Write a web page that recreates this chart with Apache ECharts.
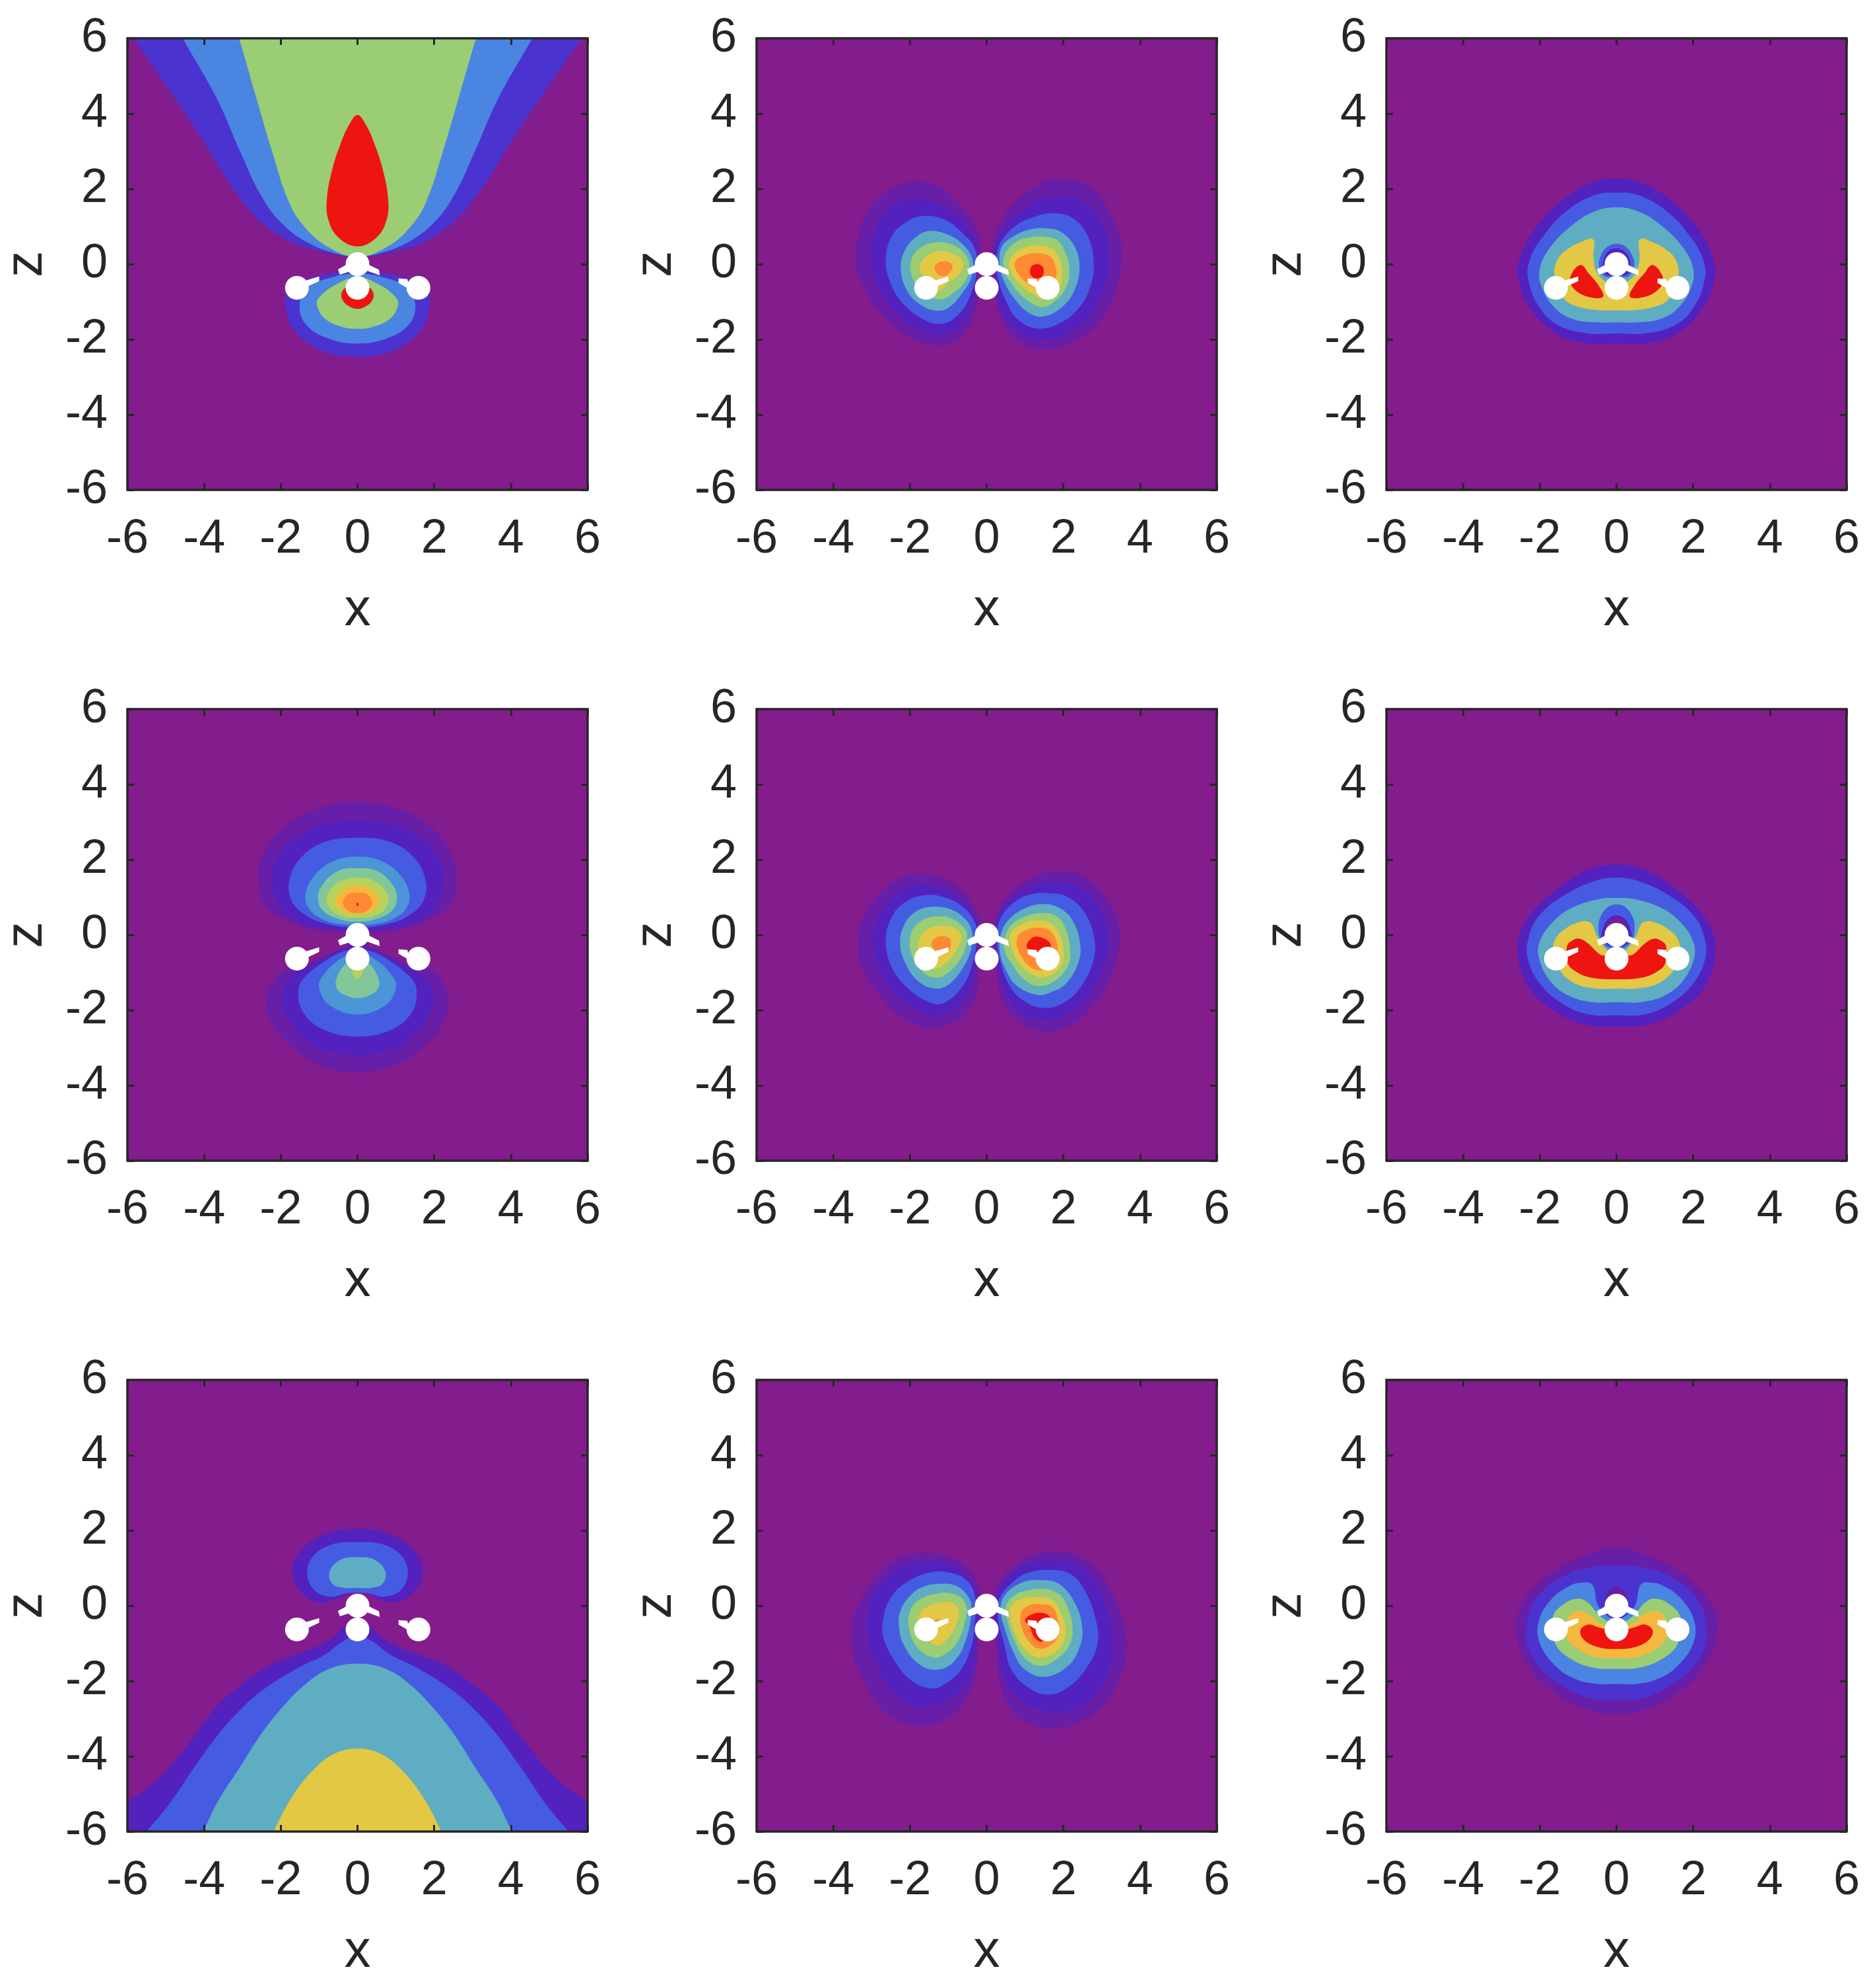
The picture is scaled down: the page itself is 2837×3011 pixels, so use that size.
<!DOCTYPE html>
<html><head><meta charset="utf-8">
<style>html,body{margin:0;padding:0;background:#fff}#c{width:2837px;height:3011px}canvas{filter:blur(.7px)}</style>
<script src="https://cdn.jsdelivr.net/npm/echarts@6/dist/echarts.min.js"></script>
</head><body><div id="c"></div>
<script>
// ---- tick labels / axes
const tickMin = -6, tickMax = 6, tickStep = 2;
const xName = 'x', zName = 'z';
// ---- molecule (x, z)
const atomsX = [0, 0, -1.58, 1.59];
const atomsZ = [0, -0.63, -0.63, -0.63];
const bondWingL = [[-.51,-.14],[-.26,0],[-.22,-.2],[-.46,-.28]];
const bondWingR = [[.56,-.15],[.26,0],[.26,-.18],[.58,-.3]];
const bondArmL = [[-1,-.33],[-1,-.45],[-1.31,-.6],[-1.4,-.45]];
const bondArmR = [[1.07,-.38],[1.07,-.5],[1.37,-.68],[1.3,-.4]];

// ---- contour outlines (x, z). "half" outlines are mirrored about x=0.
// panel 1
const p1_upA = [[0,7],[-6.4,7],[-6.4,6.6],[-5.86,6],[-4.93,4.65],[-4.1,3.4],[-3.36,2.18],[-2.63,1.23],[-1.8,.62],[-.97,.34],[0,.19]];
const p1_upB = [[0,7],[-5.1,7],[-4.56,6],[-3.68,4.42],[-3.05,2.97],[-2.53,1.85],[-2.01,1.12],[-1.28,.56],[-.55,.28],[0,.2]];
const p1_upC = [[0,7],[-3.4,7],[-3.09,6],[-2.64,4.42],[-2.22,2.97],[-1.8,1.68],[-1.39,1],[-.76,.45],[0,.19]];
const p1_upD = [[0,3.96],[-.22,3.7],[-.45,3.17],[-.67,2.47],[-.8,1.71],[-.76,1.18],[-.5,.71],[0,.47]];
const p1_loA = [[0,-.2],[-.96,-.3],[-1.53,-.5],[-1.87,-.85],[-1.87,-1.15],[-1.71,-1.68],[-1.12,-2.21],[-.55,-2.42],[0,-2.46]];
const p1_loB = [[0,-.25],[-.73,-.37],[-1.3,-.63],[-1.51,-1.1],[-1.32,-1.63],[-.7,-2],[0,-2.11]];
const p1_loC = [[0,-.34],[-.5,-.51],[-.96,-.84],[-1.06,-1.07],[-.85,-1.45],[-.39,-1.67],[0,-1.72]];
const p1_loD = [[0,-.6],[-.3,-.62],[-.42,-.8],[-.36,-1],[-.2,-1.13],[0,-1.19]];
// panel 2 (row 1, col 2)
const p2_L1 = [[-1.94,2.19],[-1.31,2.08],[-.69,1.58],[-.29,.99],[-.14,.35],[-.23,-.41],[-.23,-.99],[-.51,-1.75],[-.97,-2.11],[-1.49,-2.13],[-2.23,-1.81],[-2.91,-1.11],[-3.31,-.35],[-3.4,.29],[-3.2,1.23],[-2.69,1.87]];
const p2_L2 = [[-2,1.71],[-1.43,1.64],[-.8,1.29],[-.4,.82],[-.26,.35],[-.31,-.41],[-.37,-.99],[-.69,-1.64],[-1.14,-1.87],[-1.66,-1.78],[-2.29,-1.35],[-2.8,-.64],[-3.02,.12],[-2.89,.94],[-2.51,1.49]];
const p2_L3 = [[-1.71,1.27],[-1.14,1.2],[-.63,.82],[-.31,.41],[-.26,-.18],[-.4,-.76],[-.69,-1.29],[-1.14,-1.58],[-1.66,-1.46],[-2.23,-.99],[-2.54,-.41],[-2.63,.18],[-2.46,.76],[-2.11,1.11]];
const p2_L4 = [[-1.49,.88],[-1.03,.79],[-.63,.53],[-.37,.12],[-.4,-.35],[-.63,-.76],[-.97,-1.14],[-1.31,-1.24],[-1.77,-1.05],[-2.11,-.64],[-2.24,-.06],[-2.11,.41],[-1.83,.73]];
const p2_L5 = [[-1.31,.58],[-.86,.5],[-.54,.23],[-.45,-.06],[-.57,-.47],[-.86,-.76],[-1.2,-.94],[-1.66,-.76],[-1.94,-.35],[-1.98,.06],[-1.77,.41]];
const p2_L6 = [[-1.26,.35],[-.86,.26],[-.62,.06],[-.69,-.23],[-.97,-.47],[-1.3,-.7],[-1.71,-.23],[-1.73,0],[-1.54,.23]];
const p2_L7 = [[-1.11,.08],[-.91,0],[-.91,-.15],[-1.11,-.32],[-1.31,-.23],[-1.34,-.03]];
const p2_R1 = [[1.94,2.26],[2.63,2.11],[3.14,1.52],[3.46,.76],[3.51,.06],[3.31,-.88],[2.74,-1.75],[1.94,-2.19],[1.26,-2.26],[.63,-1.87],[.29,-1.23],[.23,-.53],[.14,.29],[.29,.99],[.8,1.7],[1.43,2.16]];
const p2_R2 = [[1.89,1.78],[2.51,1.67],[2.97,1.17],[3.17,.53],[3.17,-.18],[2.91,-.99],[2.4,-1.64],[1.71,-1.98],[1.09,-1.93],[.57,-1.52],[.31,-.99],[.26,-.41],[.2,.29],[.4,.88],[.91,1.4],[1.43,1.7]];
const p2_R3 = [[1.71,1.35],[2.23,1.23],[2.63,.76],[2.79,.06],[2.71,-.58],[2.4,-1.17],[1.89,-1.58],[1.31,-1.71],[.8,-1.46],[.51,-.99],[.29,-.35],[.26,.18],[.4,.64],[.8,1.05],[1.26,1.26]];
const p2_R4 = [[1.54,.95],[1.94,.85],[2.29,.47],[2.42,-.06],[2.31,-.64],[2,-1.11],[1.49,-1.39],[1.09,-1.29],[.74,-.94],[.46,-.47],[.34,0],[.4,.47],[.74,.76],[1.14,.92]];
const p2_R5 = [[1.49,.73],[1.83,.64],[2.06,.29],[2.16,-.18],[2.06,-.64],[1.77,-.99],[1.43,-1.14],[1.03,-.94],[.69,-.58],[.45,-.12],[.49,.29],[.8,.61],[1.14,.71]];
const p2_R6 = [[1.37,.49],[1.71,.41],[1.91,.12],[1.97,-.23],[1.89,-.64],[1.54,-.94],[1.2,-.79],[.86,-.53],[.59,-.12],[.63,.18],[.91,.41]];
const p2_R7 = [[1.31,.29],[1.66,.2],[1.79,-.06],[1.8,-.35],[1.5,-.65],[1.09,-.53],[.8,-.23],[.74,.06],[.97,.23]];
const p2_R8 = [[1.31,0],[1.45,-.06],[1.49,-.19],[1.45,-.32],[1.31,-.38],[1.17,-.32],[1.13,-.19],[1.17,-.06]];
// panel 3 (row 1, col 3)
const p3_A = [[0,2.27],[-.74,2.13],[-1.54,1.58],[-2.17,.88],[-2.51,.18],[-2.57,-.35],[-2.29,-1.11],[-1.71,-1.75],[-.97,-2.08],[0,-2.11]];
const p3_B = [[0,1.9],[-.63,1.81],[-1.37,1.35],[-1.94,.7],[-2.26,.12],[-2.3,-.41],[-2,-1.17],[-1.49,-1.64],[-.74,-1.84],[0,-1.84]];
const p3_C = [[0,1.51],[-.57,1.4],[-1.14,1.05],[-1.71,.47],[-2,-.12],[-1.94,-.64],[-1.6,-1.17],[-1.14,-1.46],[-.51,-1.55],[0,-1.55]];
const p3_D = [[0,-.55],[-.3,-.45],[-.52,-.2],[-.6,.18],[-.58,.6],[-.66,.68],[-.85,.62],[-1.2,.45],[-1.54,.12],[-1.61,-.35],[-1.37,-.92],[-.97,-1.14],[-.4,-1.23],[0,-1.23]];
const p3_E = [[-.97,-.03],[-1.14,-.2],[-1.21,-.47],[-1.03,-.73],[-.69,-.88],[-.35,-.87],[-.46,-.58],[-.74,-.23],[-.86,-.06]];
const p3_F = [[0,.54],[-.25,.45],[-.42,.2],[-.46,-.05],[-.35,-.3],[-.2,-.35],[0,-.3]];
const p3_G = [[0,.42],[-.22,.33],[-.34,.1],[-.34,-.2],[-.2,-.3],[0,-.25]];
const p3_H = [[0,.33],[-.2,.22],[-.3,0],[-.05,-.3],[0,-.3]];
// panel 4 (row 2, col 1)
const p4_upA = [[0,3.54],[-1.02,3.36],[-1.99,2.81],[-2.5,2.05],[-2.59,1.4],[-2.39,.76],[-1.76,.35],[-1.02,.12],[0,.06]];
const p4_upB = [[0,3.04],[-.9,2.92],[-1.7,2.51],[-2.16,1.93],[-2.22,1.29],[-2,.7],[-1.42,.29],[-.73,.16],[0,.1]];
const p4_upC = [[0,2.58],[-.79,2.49],[-1.42,2.11],[-1.76,1.52],[-1.73,.94],[-1.36,.53],[-.79,.29],[0,.2]];
const p4_upD = [[0,2.08],[-.56,1.99],[-1.07,1.64],[-1.35,1.11],[-1.27,.7],[-.9,.41],[-.45,.29],[0,.26]];
const p4_upE = [[0,1.77],[-.5,1.7],[-.9,1.35],[-1.03,.99],[-.9,.64],[-.45,.41],[0,.35]];
const p4_upF = [[0,1.52],[-.45,1.43],[-.73,1.17],[-.81,.94],[-.67,.64],[-.33,.48],[0,.46]];
const p4_upG = [[0,1.32],[-.33,1.23],[-.56,.99],[-.53,.76],[-.27,.58],[0,.56]];
const p4_upH = [[0,1.12],[-.25,1.08],[-.38,.85],[-.25,.64],[0,.58]];
const p4_upI = [[0,.86],[-.03,.81],[0,.76]];
const p4_loA = [[0,-.25],[-.6,-.45],[-1.3,-.75],[-1.95,-.95],[-2.36,-1.6],[-2.25,-2.3],[-1.7,-3],[-1,-3.45],[0,-3.65]];
const p4_loB = [[0,-.27],[-.55,-.45],[-1.1,-.75],[-1.59,-1],[-1.96,-1.5],[-1.87,-2.1],[-1.25,-2.87],[-.56,-3.13],[0,-3.2]];
const p4_loC = [[0,-.4],[-.4,-.45],[-.79,-.66],[-1.36,-1.11],[-1.54,-1.46],[-1.42,-2.05],[-.9,-2.51],[0,-2.7]];
const p4_loD = [[0,-.5],[-.45,-.64],[-.96,-1.17],[-.99,-1.46],[-.73,-1.87],[0,-2.12]];
const p4_loE = [[0,-.6],[-.27,-.72],[-.56,-1.2],[-.5,-1.48],[-.25,-1.63],[0,-1.68]];
const p4_loF = [[0,-.8],[-.14,-.9],[-.12,-1.05],[0,-1.17]];
// panel 5 (row 2, col 2)
const p5_L1 = [[-1.77,1.64],[-1.14,1.51],[-.57,1.1],[-.23,.51],[-.14,.05],[-.23,-.6],[-.23,-1.42],[-.57,-2.12],[-1.14,-2.44],[-1.6,-2.47],[-2.23,-2.18],[-2.86,-1.53],[-3.29,-.77],[-3.34,-.07],[-3.14,.63],[-2.63,1.27],[-2.17,1.54]];
const p5_L2 = [[-1.83,1.32],[-1.26,1.27],[-.69,.98],[-.31,.51],[-.23,.05],[-.31,-.65],[-.34,-1.18],[-.69,-1.82],[-1.14,-2.12],[-1.66,-2.06],[-2.29,-1.65],[-2.74,-1.01],[-2.97,-.3],[-2.86,.4],[-2.4,1.04]];
const p5_L3 = [[-1.66,1.05],[-1.14,1.01],[-.63,.75],[-.31,.34],[-.26,-.07],[-.37,-.77],[-.63,-1.36],[-1.09,-1.8],[-1.43,-1.81],[-2,-1.47],[-2.46,-.89],[-2.63,-.19],[-2.51,.4],[-2.17,.84]];
const p5_L4 = [[-1.49,.74],[-.97,.69],[-.57,.43],[-.39,.11],[-.4,-.36],[-.63,-.89],[-.97,-1.3],[-1.31,-1.43],[-1.77,-1.24],[-2.11,-.77],[-2.26,-.19],[-2.11,.34],[-1.83,.63]];
const p5_L5 = [[-1.31,.49],[-.91,.43],[-.57,.16],[-.51,-.07],[-.63,-.54],[-.97,-.98],[-1.31,-1.14],[-1.71,-.95],[-1.97,-.48],[-1.97,.05],[-1.71,.37]];
const p5_L6 = [[-1.26,.24],[-.86,.19],[-.66,-.04],[-.8,-.42],[-1.09,-.77],[-1.45,-.9],[-1.77,-.6],[-1.77,-.19],[-1.6,.11]];
const p5_L7 = [[-1.17,-.03],[-.94,-.13],[-1,-.42],[-1.26,-.54],[-1.43,-.3],[-1.4,-.13]];
const p5_R1 = [[1.94,1.68],[2.51,1.57],[3.03,1.1],[3.4,.4],[3.46,-.25],[3.26,-1.06],[2.74,-1.94],[2.06,-2.47],[1.43,-2.57],[.8,-2.29],[.4,-1.71],[.26,-.95],[.2,.05],[.29,.63],[.74,1.22],[1.37,1.6]];
const p5_R2 = [[1.77,1.4],[2.34,1.33],[2.86,.87],[3.14,.22],[3.17,-.36],[2.97,-1.06],[2.51,-1.77],[1.94,-2.18],[1.37,-2.26],[.8,-2],[.46,-1.42],[.29,-.83],[.22,.05],[.4,.69],[.91,1.16],[1.37,1.36]];
const p5_R3 = [[1.6,1.11],[2.11,1.01],[2.57,.57],[2.8,-.07],[2.8,-.6],[2.51,-1.3],[2.06,-1.77],[1.49,-1.94],[.91,-1.71],[.57,-1.3],[.34,-.65],[.27,-.01],[.4,.51],[.8,.92],[1.2,1.09]];
const p5_R4 = [[1.49,.82],[1.89,.72],[2.23,.4],[2.43,-.19],[2.4,-.71],[2.06,-1.3],[1.66,-1.53],[1.31,-1.59],[.8,-1.36],[.51,-.95],[.34,-.42],[.4,.11],[.63,.46],[1.03,.72]];
const p5_R5 = [[1.43,.58],[1.83,.49],[2.06,.16],[2.17,-.3],[2.14,-.77],[1.83,-1.18],[1.37,-1.36],[.97,-1.18],[.69,-.83],[.46,-.36],[.54,.11],[.86,.43]];
const p5_R6 = [[1.37,.39],[1.71,.28],[1.94,-.07],[2,-.42],[1.94,-.83],[1.54,-1.12],[1.2,-1.06],[.86,-.77],[.63,-.3],[.63,.05],[.97,.31]];
const p5_R7 = [[1.37,.19],[1.63,.13],[1.83,-.19],[1.83,-.48],[1.7,-.8],[1.43,-.94],[1.11,-.83],[.83,-.42],[.8,-.07],[1.03,.13]];
const p5_R8 = [[1.34,-.05],[1.63,-.19],[1.66,-.42],[1.35,-.55],[1.06,-.36],[1.06,-.22],[1.2,-.07]];
// panel 6 (row 2, col 3)
const p6_A = [[0,1.87],[-.74,1.73],[-1.54,1.23],[-2.17,.64],[-2.51,.06],[-2.57,-.58],[-2.29,-1.4],[-1.66,-1.99],[-.86,-2.37],[0,-2.44]];
const p6_B = [[0,1.52],[-.57,1.43],[-1.37,1.05],[-2,.53],[-2.29,-.06],[-2.31,-.64],[-2,-1.29],[-1.43,-1.81],[-.74,-2.11],[0,-2.13]];
const p6_C = [[0,.98],[-.51,.94],[-1.2,.7],[-1.71,.29],[-2,-.18],[-2.03,-.58],[-1.77,-1.17],[-1.31,-1.58],[-.69,-1.78],[0,-1.79]];
const p6_D = [[0,-.55],[-.25,-.4],[-.5,-.05],[-.65,.3],[-.78,.36],[-.94,.35],[-1.31,.18],[-1.6,-.12],[-1.66,-.53],[-1.49,-.94],[-1.09,-1.29],[-.57,-1.42],[0,-1.43]];
const p6_E = [[0,-.5],[-.3,-.55],[-.46,-.5],[-.74,-.23],[-.97,-.1],[-1.15,-.15],[-1.29,-.3],[-1.27,-.76],[-1.03,-.99],[-.63,-1.14],[0,-1.18]];
const p6_F = [[0,.81],[-.25,.72],[-.43,.45],[-.47,.15],[-.42,-.1],[-.2,-.35],[0,-.3]];
const p6_G = [[0,.52],[-.22,.42],[-.36,.15],[-.38,-.1],[-.15,-.3],[0,-.25]];
const p6_H = [[0,.44],[-.2,.33],[-.3,.1],[-.3,-.05],[0,-.1]];
// panel 7 (row 3, col 1)
const p7_upA = [[0,2.05],[-.85,1.9],[-1.48,1.46],[-1.7,.9],[-1.48,.38],[-1,.09],[-.53,.18],[-.3,.3],[0,.34]];
const p7_upB = [[0,1.69],[-.69,1.62],[-1.17,1.3],[-1.31,.82],[-1.09,.38],[-.69,.24],[-.3,.33],[0,.34]];
const p7_upC = [[0,1.29],[-.45,1.22],[-.73,.9],[-.65,.58],[-.37,.48],[0,.47]];
const p7_loA = [[0,-.3],[-.33,-.54],[-.77,-.94],[-1.48,-1.26],[-2.28,-1.58],[-3.07,-2.14],[-3.7,-2.7],[-4.34,-3.58],[-5.13,-4.54],[-6.05,-5.26],[-6.6,-5.7],[-6.6,-7],[0,-7]];
const p7_loB = [[0,-.8],[-.37,-.94],[-.85,-1.3],[-1.56,-1.66],[-2.44,-2.22],[-3.07,-2.78],[-3.63,-3.42],[-4.26,-4.3],[-4.9,-5.26],[-5.45,-5.94],[-5.9,-6.5],[-5.9,-7],[0,-7]];
const p7_loC = [[0,-1.54],[-.69,-1.66],[-1.33,-2.06],[-1.96,-2.7],[-2.52,-3.42],[-3.07,-4.3],[-3.63,-5.18],[-4,-5.94],[-4.3,-6.5],[-4.3,-7],[0,-7]];
const p7_loD = [[0,-3.8],[-.61,-3.94],[-1.17,-4.38],[-1.72,-5.1],[-2.16,-5.94],[-2.4,-6.5],[-2.4,-7],[0,-7]];
// panel 8 (row 3, col 2)
const p8_L1 = [[-1.6,1.4],[-.97,1.29],[-.46,.94],[-.17,.44],[-.14,-.03],[-.23,-1.02],[-.29,-1.84],[-.57,-2.54],[-1.09,-3.04],[-1.83,-3.19],[-2.63,-2.84],[-3.2,-2.02],[-3.51,-1.14],[-3.49,-.44],[-3.14,.44],[-2.51,1.14],[-2.06,1.35]];
const p8_L2 = [[-1.6,1.17],[-1.03,1.11],[-.51,.79],[-.26,.32],[-.23,-.03],[-.26,-.91],[-.4,-1.84],[-.8,-2.37],[-1.31,-2.63],[-1.89,-2.66],[-2.46,-2.25],[-2.91,-1.49],[-3.11,-.79],[-3.09,-.15],[-2.8,.56],[-2.23,1.02]];
const p8_L3 = [[-1.43,.89],[-.86,.85],[-.46,.61],[-.29,.15],[-.31,-.44],[-.4,-1.08],[-.69,-1.73],[-1.09,-2.08],[-1.43,-2.2],[-2,-1.96],[-2.46,-1.37],[-2.69,-.85],[-2.71,-.44],[-2.54,.15],[-2.11,.61]];
const p8_L4 = [[-1.31,.58],[-.8,.53],[-.46,.2],[-.4,-.15],[-.54,-.91],[-.86,-1.49],[-1.31,-1.7],[-1.77,-1.55],[-2.17,-1.02],[-2.29,-.5],[-2.23,-.09],[-1.94,.32],[-1.66,.5]];
const p8_L5 = [[-1.26,.33],[-.8,.29],[-.54,.03],[-.57,-.44],[-.8,-1.02],[-1.14,-1.32],[-1.43,-1.37],[-1.83,-1.08],[-2.03,-.56],[-2,-.15],[-1.77,.15]];
const p8_L6 = [[-1.2,.09],[-.86,.06],[-.73,-.15],[-.8,-.5],[-1.09,-.96],[-1.31,-1.05],[-1.54,-.91],[-1.8,-.5],[-1.71,-.15],[-1.49,0]];
const p8_L7 = [[-1.36,-.42],[-1.29,-.36],[-1.2,-.42],[-1.29,-.45]];
const p8_R1 = [[1.71,1.45],[2.4,1.32],[2.97,.85],[3.43,-.03],[3.66,-1.02],[3.49,-1.84],[3.03,-2.66],[2.34,-3.13],[1.66,-3.27],[.97,-3.07],[.51,-2.54],[.31,-1.84],[.26,-1.02],[.18,-.03],[.29,.56],[.74,1.08],[1.26,1.37]];
const p8_R2 = [[1.66,1.2],[2.29,1.11],[2.8,.67],[3.17,-.15],[3.29,-1.02],[3.14,-1.84],[2.69,-2.49],[2.11,-2.81],[1.43,-2.78],[.8,-2.43],[.4,-1.73],[.29,-1.02],[.2,-.03],[.4,.56],[.91,1.05],[1.3,1.17]];
const p8_R3 = [[1.6,.95],[2.17,.85],[2.57,.38],[2.86,-.44],[2.89,-1.02],[2.63,-1.61],[2.17,-2.13],[1.6,-2.36],[1.03,-2.13],[.63,-1.67],[.46,-1.02],[.29,-.32],[.34,.2],[.8,.73],[1.2,.91]];
const p8_R4 = [[1.43,.68],[1.89,.58],[2.29,.09],[2.49,-.56],[2.43,-1.08],[2.11,-1.61],[1.49,-1.89],[.97,-1.67],[.71,-1.26],[.51,-.73],[.37,-.15],[.46,.26],[.91,.61]];
const p8_R5 = [[1.37,.45],[1.83,.35],[2.11,-.03],[2.24,-.61],[2.17,-1.02],[1.89,-1.37],[1.43,-1.6],[1.03,-1.43],[.74,-.96],[.57,-.5],[.5,-.03],[.74,.29],[1.09,.41]];
const p8_R6 = [[1.31,.23],[1.71,.15],[1.94,-.2],[2.06,-.61],[1.97,-1.02],[1.71,-1.29],[1.31,-1.37],[.97,-1.14],[.74,-.73],[.6,-.26],[.66,.03],[.97,.2]];
const p8_R7 = [[1.37,.04],[1.71,-.03],[1.86,-.38],[1.89,-.73],[1.71,-1.02],[1.37,-1.14],[1.11,-.96],[.91,-.56],[.89,-.2],[1.09,0]];
const p8_R8 = [[1,-.38],[1.2,-.22],[1.43,-.19],[1.65,-.3],[1.6,-.6],[1.45,-.95],[1.25,-.85],[1.12,-.55]];
// panel 9 (row 3, col 3)
const p9_A = [[0,1.56],[-.69,1.39],[-1.54,.98],[-2.17,.46],[-2.57,-.19],[-2.62,-.77],[-2.29,-1.59],[-1.71,-2.23],[-.86,-2.73],[0,-2.89]];
const p9_B = [[0,1.07],[-.74,1.01],[-1.54,.69],[-2.11,.16],[-2.33,-.42],[-2.31,-1.06],[-1.94,-1.71],[-1.31,-2.18],[-.63,-2.47],[0,-2.5]];
const p9_C = [[0,-.35],[-.3,-.2],[-.5,.05],[-.58,.45],[-.65,.58],[-.85,.62],[-1.2,.54],[-1.71,.16],[-2.03,-.42],[-2,-1],[-1.6,-1.59],[-1.09,-1.94],[-.51,-2.08],[0,-2.08]];
const p9_D = [[0,-.5],[-.29,-.38],[-.51,-.19],[-.74,.08],[-1,.19],[-1.37,.05],[-1.66,-.3],[-1.6,-1],[-1.2,-1.41],[-.63,-1.64],[0,-1.68]];
const p9_E = [[0,-.55],[-.4,-.48],[-.69,-.25],[-1,-.14],[-1.25,-.3],[-1.31,-.83],[-.97,-1.18],[-.51,-1.37],[0,-1.39]];
const p9_F = [[0,-.7],[-.3,-.62],[-.51,-.56],[-.74,-.5],[-.94,-.65],[-.86,-.89],[-.51,-1.09],[0,-1.15]];
const p9_G = [[0,.72],[-.25,.6],[-.38,.3],[-.42,0],[-.2,-.3],[0,-.3]];
const p9_H = [[0,.5],[-.2,.4],[-.3,.1],[-.3,-.1],[0,-.1]];

// ---- helpers and styling
const C = {purple:'#831C8C',violet:'#681FA8',indigo:'#5322BE',indigo2:'#4B33CF',blue:'#455CE2',sky:'#4A85E2',sky2:'#4C95D6',teal:'#5FADC2',mint:'#82C79A',green:'#9ACD74',lime:'#B7D25A',yellow:'#E2C845',amber:'#F5B83F',orange:'#FF8A33',red:'#EE1410'};
const mirrorPts = a => a.map(p => [-p[0], p[1]]);
const full = (c, a) => [{c, pts: a}];
const sym = (c, a) => {
  const m = mirrorPts(a).reverse().filter(p => p[0] !== 0);
  return [{c, pts: a.concat(m)}];
};
const twin = (c, a) => [{c, pts: a}, {c, pts: mirrorPts(a)}];

const panels = [
  [sym(C.indigo2,p1_upA),sym(C.sky,p1_upB),sym(C.green,p1_upC),sym(C.red,p1_upD),sym(C.indigo2,p1_loA),sym(C.sky,p1_loB),sym(C.green,p1_loC),sym(C.red,p1_loD)],
  [full(C.violet,p2_L1),full(C.indigo,p2_L2),full(C.blue,p2_L3),full(C.teal,p2_L4),full(C.green,p2_L5),full(C.yellow,p2_L6),full(C.orange,p2_L7),
   full(C.violet,p2_R1),full(C.indigo,p2_R2),full(C.blue,p2_R3),full(C.teal,p2_R4),full(C.green,p2_R5),full(C.yellow,p2_R6),full(C.orange,p2_R7),full(C.red,p2_R8)],
  [sym(C.indigo,p3_A),sym(C.blue,p3_B),sym(C.teal,p3_C),sym(C.yellow,p3_D),twin(C.red,p3_E),sym(C.blue,p3_F),sym(C.indigo,p3_G),sym(C.purple,p3_H)],
  [sym(C.violet,p4_upA),sym(C.indigo,p4_upB),sym(C.blue,p4_upC),sym(C.sky2,p4_upD),sym(C.mint,p4_upE),sym(C.lime,p4_upF),sym(C.amber,p4_upG),sym(C.orange,p4_upH),sym(C.red,p4_upI),
   sym(C.violet,p4_loA),sym(C.indigo,p4_loB),sym(C.blue,p4_loC),sym(C.sky2,p4_loD),sym(C.mint,p4_loE),sym(C.lime,p4_loF)],
  [full(C.violet,p5_L1),full(C.indigo,p5_L2),full(C.blue,p5_L3),full(C.teal,p5_L4),full(C.green,p5_L5),full(C.yellow,p5_L6),full(C.orange,p5_L7),
   full(C.violet,p5_R1),full(C.indigo,p5_R2),full(C.blue,p5_R3),full(C.teal,p5_R4),full(C.green,p5_R5),full(C.yellow,p5_R6),full(C.orange,p5_R7),full(C.red,p5_R8)],
  [sym(C.indigo,p6_A),sym(C.blue,p6_B),sym(C.teal,p6_C),sym(C.yellow,p6_D),sym(C.red,p6_E),sym(C.blue,p6_F),sym(C.indigo,p6_G),sym(C.purple,p6_H)],
  [sym(C.indigo,p7_upA),sym(C.blue,p7_upB),sym(C.teal,p7_upC),sym(C.indigo,p7_loA),sym(C.blue,p7_loB),sym(C.teal,p7_loC),sym(C.yellow,p7_loD)],
  [full(C.violet,p8_L1),full(C.indigo,p8_L2),full(C.blue,p8_L3),full(C.teal,p8_L4),full(C.green,p8_L5),full(C.yellow,p8_L6),full(C.orange,p8_L7),
   full(C.violet,p8_R1),full(C.indigo,p8_R2),full(C.blue,p8_R3),full(C.teal,p8_R4),full(C.green,p8_R5),full(C.yellow,p8_R6),full(C.orange,p8_R7),full(C.red,p8_R8)],
  [sym(C.violet,p9_A),sym(C.indigo2,p9_B),sym(C.sky,p9_C),sym(C.green,p9_D),sym(C.amber,p9_E),sym(C.red,p9_F),sym(C.indigo2,p9_G),sym(C.violet,p9_H)]
].map(list => list.flat());
const bonds = [bondWingL, bondWingR, bondArmL, bondArmR];

const colLeft = [193, 1146, 2100], rowTop = [58, 1074, 2090], gridW = 697, gridH = 684;
const ink = '#262626', font = 'Liberation Sans';

const grid = [], xAxis = [], yAxis = [], series = [];
panels.forEach((polys, i) => {
  const r = Math.floor(i / 3), c = i % 3;
  grid.push({left: colLeft[c], top: rowTop[r], width: gridW, height: gridH, show: true,
             backgroundColor: C.purple, borderWidth: 0, containLabel: false});
  const common = pos => ({
    gridIndex: i, type: 'value', min: tickMin, max: tickMax, interval: tickStep, position: pos, z: 6,
    splitLine: {show: false},
    axisLine: {show: true, onZero: false, lineStyle: {color: ink, width: 3.5}},
    axisTick: {show: true, inside: true, length: 10, lineStyle: {color: ink, width: 3}},
  });
  xAxis.push(Object.assign(common('bottom'), {
    axisLabel: {show: true, color: ink, fontFamily: font, fontSize: 72, margin: 39},
    name: xName, nameLocation: 'middle', nameGap: 143,
    nameTextStyle: {color: ink, fontFamily: font, fontSize: 80}}));
  xAxis.push(Object.assign(common('top'), {axisLabel: {show: false}}));
  yAxis.push(Object.assign(common('left'), {
    axisLabel: {show: true, color: ink, fontFamily: font, fontSize: 72, margin: 30, padding: [18, 0, 0, 0]},
    name: zName, nameLocation: 'middle', nameGap: 112,
    nameTextStyle: {color: ink, fontFamily: font, fontSize: 80}}));
  yAxis.push(Object.assign(common('right'), {axisLabel: {show: false}}));
  const xi = 2 * i, yi = 2 * i;
  const polyRender = (items, smooth) => (params, api) => {
    const it = items[params.dataIndex];
    return {type: 'polygon',
      shape: {points: it.pts.map(p => api.coord(p)), smooth},
      style: {fill: it.c}};
  };
  series.push({type: 'custom', coordinateSystem: 'cartesian2d', xAxisIndex: xi, yAxisIndex: yi, clip: true, z: 2,
    silent: true, animation: false, renderItem: polyRender(polys, 0.4),
    data: polys.map(p => [p.pts[0][0], p.pts[0][1]])});
  const bondItems = bonds.map(b => ({c: '#ffffff', pts: b}));
  series.push({type: 'custom', coordinateSystem: 'cartesian2d', xAxisIndex: xi, yAxisIndex: yi, clip: true, z: 3,
    silent: true, animation: false, renderItem: polyRender(bondItems, 0),
    data: bonds.map(b => [b[0][0], b[0][1]])});
  series.push({type: 'scatter', xAxisIndex: xi, yAxisIndex: yi, z: 4, silent: true, animation: false,
    symbol: 'circle', symbolSize: 36, itemStyle: {color: '#ffffff', opacity: 1},
    data: atomsX.map((x, k) => [x, atomsZ[k]])});
});

const chart = echarts.init(document.getElementById('c'), null, {width: 2837, height: 3011, renderer: 'canvas'});
chart.setOption({animation: false, backgroundColor: '#ffffff', tooltip: {show: false}, grid, xAxis, yAxis, series});
</script></body></html>
